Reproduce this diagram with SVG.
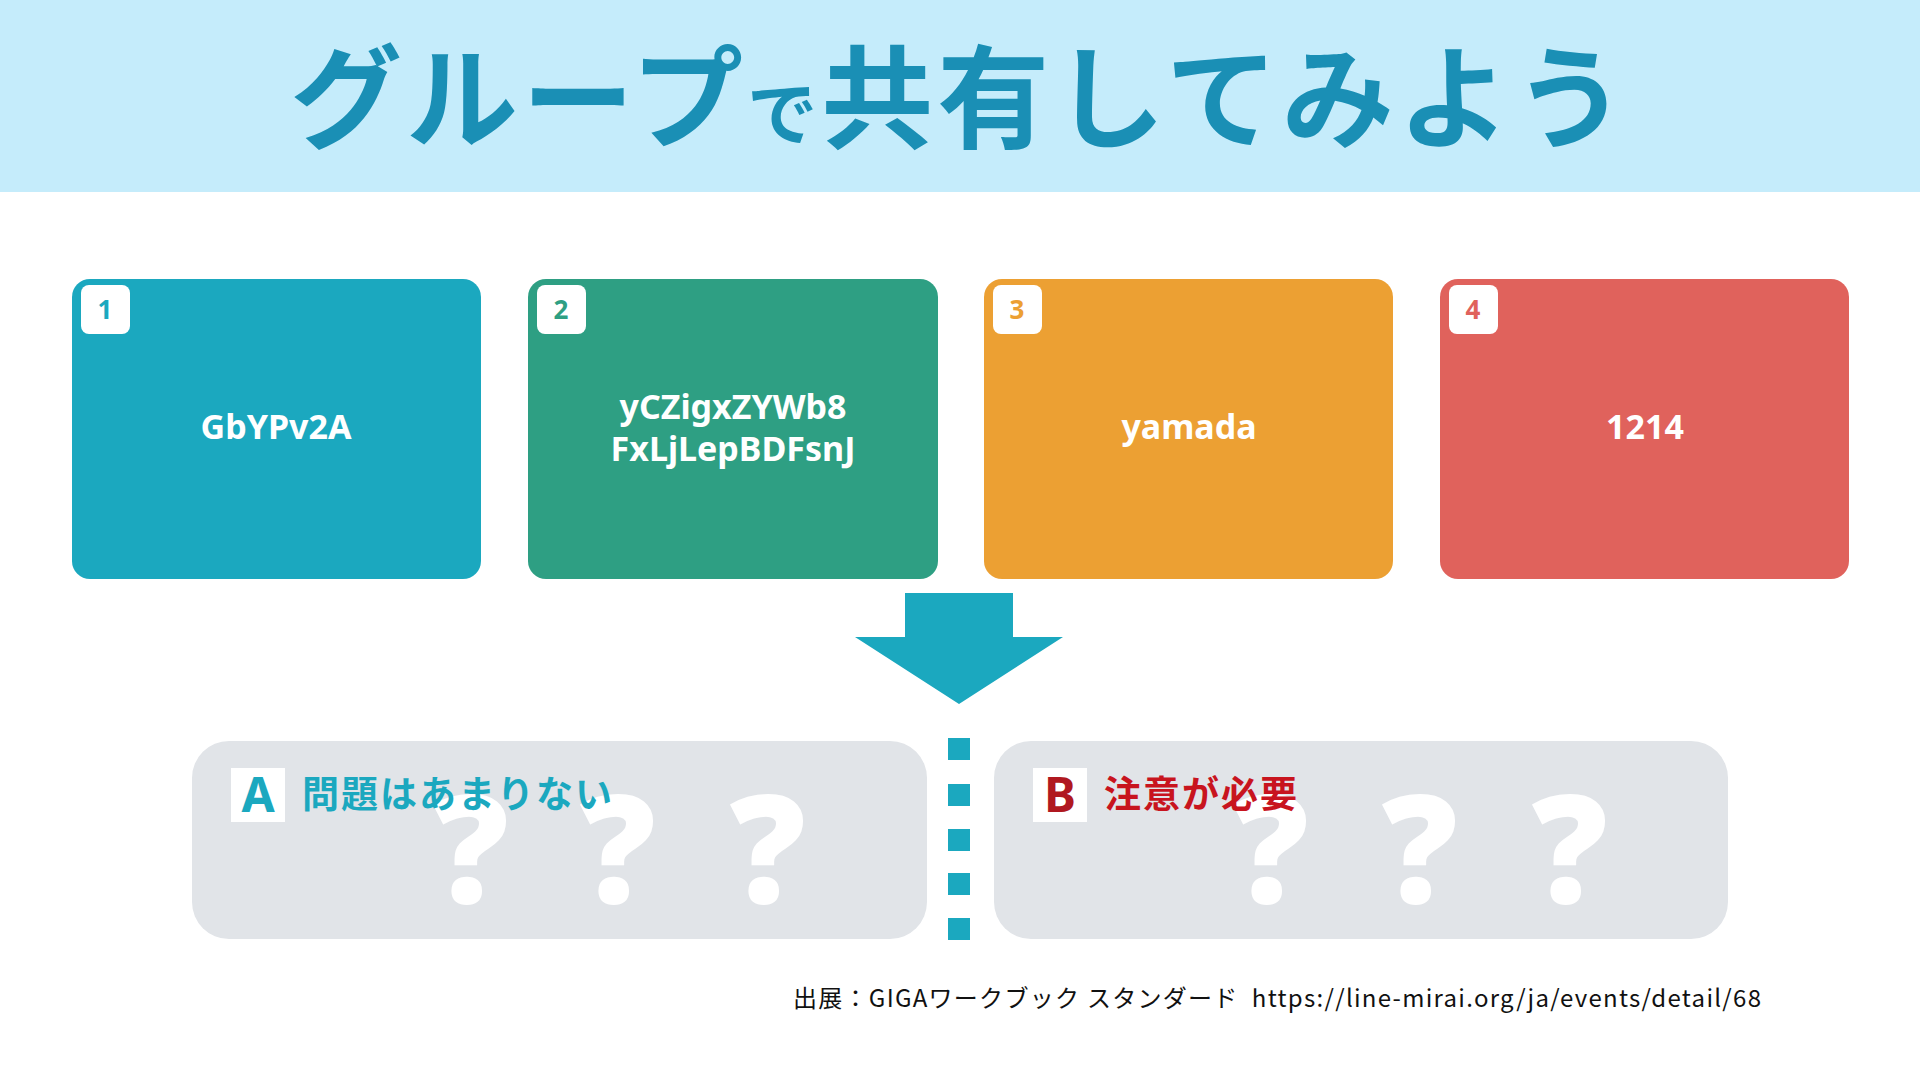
<svg xmlns="http://www.w3.org/2000/svg" width="1920" height="1080" viewBox="0 0 1920 1080">
<style>
.jp{font-family:"Noto Sans CJK JP","Noto Sans",sans-serif}
.card-t{font-family:"Noto Sans","Open Sans",sans-serif;font-weight:bold;font-size:34px;fill:#fff;text-anchor:middle}
.num{font-family:"Noto Sans",sans-serif;font-weight:bold;font-size:26px;text-anchor:middle}
.q{font-family:"Noto Sans","Liberation Sans",sans-serif;font-weight:900;font-size:150px;fill:#fff;text-anchor:middle}
.box{fill:#e1e4e8}
.dot{fill:#1ba8bf}
</style>
<rect width="1920" height="1080" fill="#fff"/>
<g id="header">
<rect width="1920" height="192" fill="#c5ecfb"/>
<text x="960" y="140" class="jp" font-size="112" font-weight="bold" fill="#1a8fb5" text-anchor="middle" letter-spacing="4">グループ<tspan font-size="70">で</tspan>共有してみよう</text>
</g>
<g id="card1"><rect x="72" y="279" width="409" height="300" rx="18" fill="#1ba8bf"/><rect x="81" y="285" width="49" height="49" rx="8" fill="#fff"/><text x="105" y="319" class="num" fill="#1ba8bf">1</text><text x="276" y="439" class="card-t">GbYPv2A</text></g>
<g id="card2"><rect x="528" y="279" width="410" height="300" rx="18" fill="#2e9f83"/><rect x="537" y="285" width="49" height="49" rx="8" fill="#fff"/><text x="561" y="319" class="num" fill="#2e9f83">2</text><text x="733" y="419" class="card-t">yCZigxZYWb8</text><text x="733" y="461" class="card-t">FxLjLepBDFsnJ</text></g>
<g id="card3"><rect x="984" y="279" width="409" height="300" rx="18" fill="#eca033"/><rect x="993" y="285" width="49" height="49" rx="8" fill="#fff"/><text x="1017" y="319" class="num" fill="#eca033">3</text><text x="1189" y="439" class="card-t">yamada</text></g>
<g id="card4"><rect x="1440" y="279" width="409" height="300" rx="18" fill="#e0625c"/><rect x="1449" y="285" width="49" height="49" rx="8" fill="#fff"/><text x="1473" y="319" class="num" fill="#e0625c">4</text><text x="1645" y="439" class="card-t">1214</text></g>
<g id="connectors">
<polygon points="905,593 1013,593 1013,637 1063,637 959,704 855,637 905,637" fill="#1ba8bf"/>
<rect class="dot" x="948" y="738" width="22" height="22"/><rect class="dot" x="948" y="784" width="22" height="22"/><rect class="dot" x="948" y="829" width="22" height="22"/><rect class="dot" x="948" y="873" width="22" height="22"/><rect class="dot" x="948" y="918" width="22" height="22"/>
</g>
<g id="boxA">
<rect class="box" x="192" y="741" width="735" height="198" rx="37"/>
<text x="471" y="903" class="q">?</text><text x="618" y="903" class="q">?</text><text x="768" y="903" class="q">?</text>
<rect x="231" y="768" width="54" height="54" fill="#fff"/>
<text x="258" y="812" font-family="Noto Sans,sans-serif" font-weight="bold" font-size="48" fill="#1ba8bf" text-anchor="middle">A</text>
<text x="302" y="808" class="jp" font-size="37" font-weight="bold" fill="#1ba8bf" textLength="310">問題はあまりない</text>
</g>
<g id="boxB">
<rect class="box" x="994" y="741" width="734" height="198" rx="37"/>
<text x="1271" y="903" class="q">?</text><text x="1420" y="903" class="q">?</text><text x="1570" y="903" class="q">?</text>
<rect x="1033" y="768" width="54" height="54" fill="#fff"/>
<text x="1060" y="812" font-family="Noto Sans,sans-serif" font-weight="bold" font-size="48" fill="#b01820" text-anchor="middle">B</text>
<text x="1104" y="808" class="jp" font-size="37" font-weight="bold" fill="#c8141e" textLength="193">注意が必要</text>
</g>
<text x="793" y="1007" class="jp" font-size="24" fill="#111" textLength="968" xml:space="preserve">出展：GIGAワークブック スタンダード  https://line-mirai.org/ja/events/detail/68</text>
</svg>
